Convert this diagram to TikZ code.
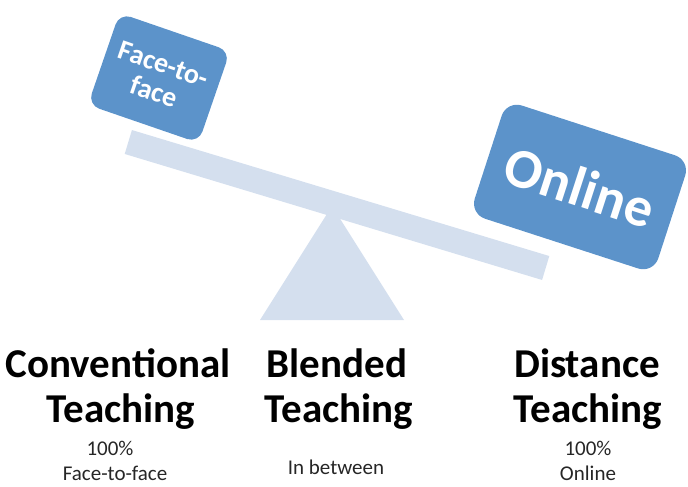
\documentclass[tikz,border=0pt]{standalone}
\usepackage{fontspec}
\setmainfont{Carlito}
\definecolor{boxblue}{HTML}{5C93CA}
\definecolor{beamblue}{HTML}{D4DFEE}
\begin{document}
\begin{tikzpicture}[x=1pt,y=-1pt,
  weight/.style={fill=boxblue, text=white, align=center, inner sep=0pt},
  title/.style={font=\bfseries\fontsize{41}{45}\selectfont, anchor=base},
  note/.style={font=\fontsize{21}{25}\selectfont, anchor=base, text=black!85}]
\useasboundingbox (0,0) rectangle (688,487);

% fulcrum
\fill[beamblue] (332,206) -- (260,320) -- (404,320) -- cycle;
% plank of the seesaw
\node[fill=beamblue, minimum width=436pt, minimum height=25pt, inner sep=0pt,
      rotate=-16.8] (plank) at (337,205) {};

% weights sitting on the plank
\node[weight, minimum width=117pt, minimum height=97pt, rounded corners=12pt,
      rotate=-19, font=\bfseries\fontsize{28}{29}\selectfont] (ftf) at (159,78)
      {Face-to-\\face};
\node[weight, minimum width=193pt, minimum height=119pt, rounded corners=16pt,
      rotate=-18, font=\bfseries\fontsize{56}{60}\selectfont] (online) at (580,187)
      {Online};

% captions
\node[title] (conv1) at (118,377) {Conventional};
\node[title] (conv2) at (121,422) {Teaching};
\node[note]  (conv3) at (110,455) {100\%};
\node[note]  (conv4) at (115,480) {Face-to-face};

\node[title] (blen1) at (337,377) {Blended};
\node[title] (blen2) at (339,422) {Teaching};
\node[note]  (blen3) at (336,474) {In between};

\node[title] (dist1) at (587,377) {Distance};
\node[title] (dist2) at (588,422) {Teaching};
\node[note]  (dist3) at (588,455) {100\%};
\node[note]  (dist4) at (588,480) {Online};
\end{tikzpicture}
\end{document}
